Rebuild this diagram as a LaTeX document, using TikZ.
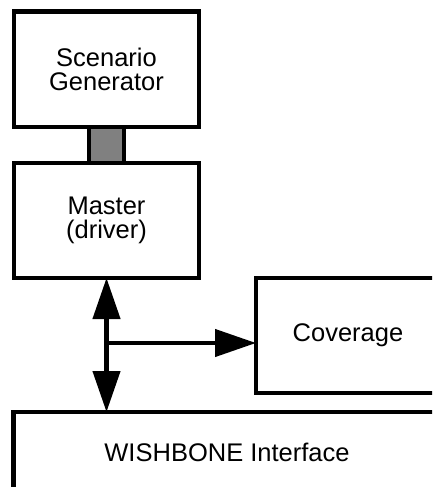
\documentclass[tikz,border=0pt]{standalone}
\usepackage{fontspec}
\setmainfont{Liberation Sans}
\usetikzlibrary{arrows.meta,calc}
\definecolor{linkgray}{HTML}{808080}
\tikzset{
  block/.style={draw=black, line width=4.3pt, fill=white, outer sep=0pt, inner sep=0pt,
    align=center, font=\fontsize{25.5}{23.5}\selectfont},
  linkbox/.style={draw=black, line width=4.3pt, fill=linkgray, outer sep=0pt, inner sep=0pt},
  flow/.style={line width=4.3pt, -{Triangle[length=41pt,width=27pt]}},
  bothflow/.style={line width=4.3pt, {Triangle[length=41pt,width=27pt]}-{Triangle[length=41pt,width=27pt]}}
}
\begin{document}
\begin{tikzpicture}[x=1pt,y=-1pt]
  \path[use as bounding box] (0,0) rectangle (432,487);
  \fill[white] (0,0) rectangle (432,487);
  \clip (0,0) rectangle (432,487);

  % blocks
  \node[block, minimum width=185pt, minimum height=115.5pt] (gen) at (106.5,69.25) {Scenario\\Generator};
  \node[block, minimum width=185pt, minimum height=115pt] (mst) at (106.5,220.5) {Master\\(driver)};
  \node[linkbox, minimum width=35pt, minimum height=36pt] (link) at (106.5,145) {};
  \node[block, minimum width=184pt, minimum height=115pt] (cov) at (348,335.5) {Coverage};
  \node[block, minimum width=427pt, minimum height=80pt] (wsh) at (227,452) {WISHBONE Interface};

  % bus between master and interface, with a tap to coverage
  \coordinate (tap) at ($(mst.south)+(0,65)$);
  \draw[bothflow] (mst.south) -- (mst.south |- wsh.north);
  \draw[flow] (tap) -- (tap -| cov.west);
\end{tikzpicture}
\end{document}
